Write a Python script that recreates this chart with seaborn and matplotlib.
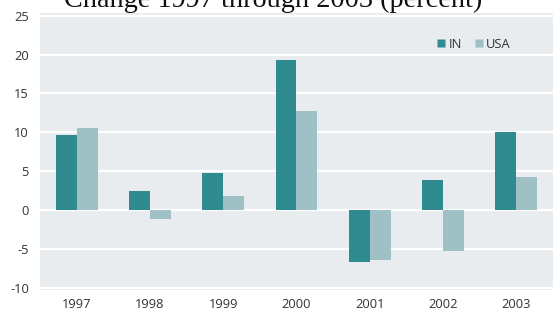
import matplotlib
matplotlib.use("Agg")
import matplotlib.pyplot as plt
import seaborn as sns
import pandas as pd
from matplotlib.lines import Line2D

years = ["1997", "1998", "1999", "2000", "2001", "2002", "2003"]
in_vals = [9.6, 2.4, 4.8, 19.3, -6.7, 3.85, 10.0]
usa_vals = [10.5, -1.2, 1.8, 12.8, -6.4, -5.25, 4.2]
series = ["IN", "USA"]
yticks = [-10, -5, 0, 5, 10, 15, 20, 25]
title = "Change 1997 through 2003 (percent)"

df = pd.DataFrame({
    "year": years * 2,
    "value": in_vals + usa_vals,
    "series": [series[0]] * len(years) + [series[1]] * len(years),
})

colors = {"IN": "#2f8b8f", "USA": "#9fc0c5"}

sns.set_theme(style="white")
plt.rcParams["font.family"] = ["Open Sans", "DejaVu Sans"]

fig = plt.figure(figsize=(5.58, 3.14), dpi=100)
fig.patch.set_facecolor("white")
ax = fig.add_axes([0.0717, 0.0764, 0.9193, 0.8822])
ax.set_facecolor("#e8ecef")

sns.barplot(data=df, x="year", y="value", hue="series", palette=colors,
            width=0.57, gap=0, ax=ax, legend=False, saturation=1)
for p in ax.patches:
    p.set_edgecolor("none")

ax.set_xlim(-0.5, 6.5)
ax.set_ylim(-10.3, 25.35)
ax.set_yticks(yticks)
ax.set_yticklabels([str(t) for t in yticks])
ax.grid(axis="y", color="white", linewidth=1.6)
ax.set_axisbelow(True)
for s in ax.spines.values():
    s.set_visible(False)
ax.tick_params(axis="both", length=0, labelsize=9.3, colors="#333333")
ax.tick_params(axis="y", pad=8)
ax.tick_params(axis="x", pad=6)
ax.set_xlabel("")
ax.set_ylabel("")

handles = [Line2D([0], [0], marker="s", linestyle="none", markersize=5.5,
                  markerfacecolor=colors[s], markeredgecolor="none", label=s)
           for s in series]
ax.legend(handles=handles, loc="center right", bbox_to_anchor=(0.918, 0.888),
          ncol=2, frameon=False, fontsize=9.3, handletextpad=0.15,
          columnspacing=0.8, labelcolor="#333333", borderpad=0,
          borderaxespad=0, handlelength=0.9)

fig.text(0.49, 0.978, title, ha="center", va="baseline",
         fontsize=20.3, family=["Liberation Serif"], color="#111111")

fig.savefig("out.png", dpi=100)
